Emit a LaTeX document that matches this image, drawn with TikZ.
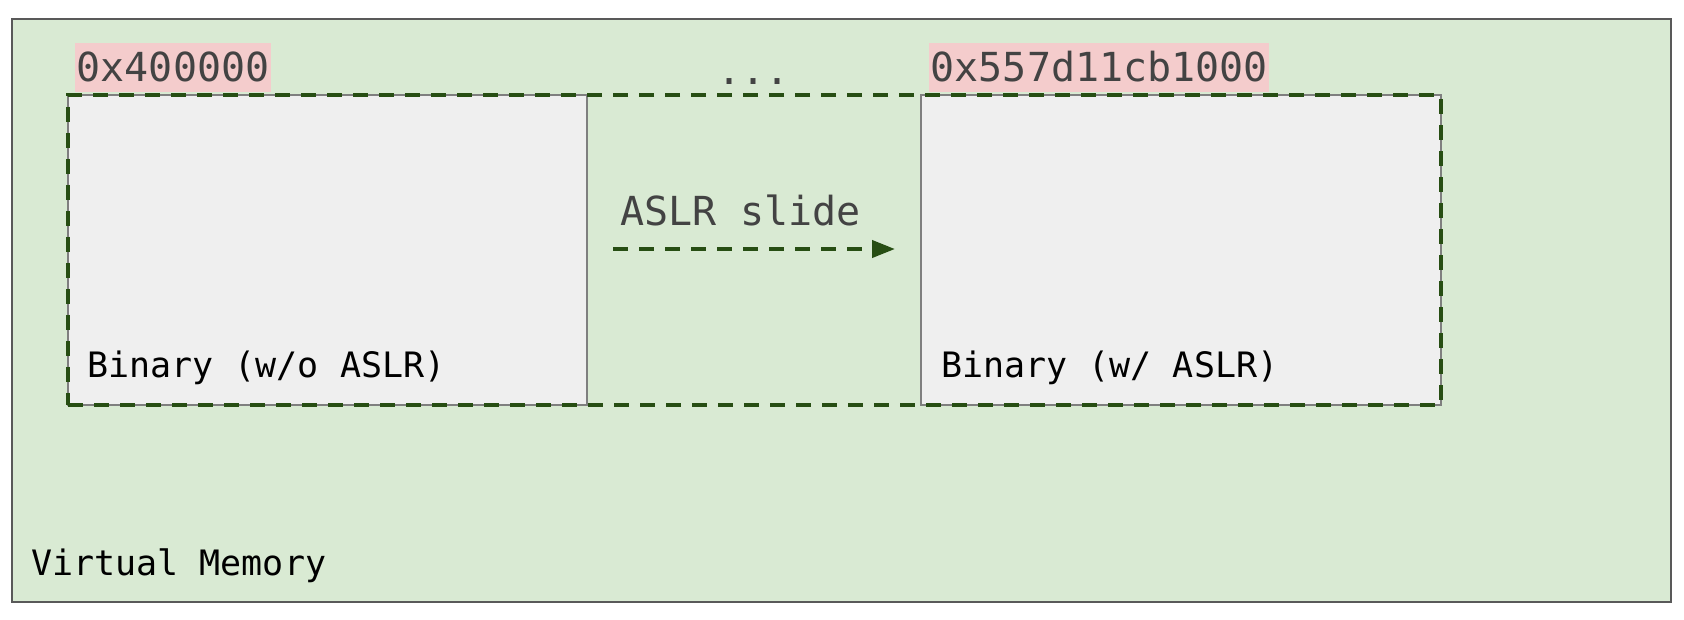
\documentclass[tikz,border=0pt]{standalone}
\usepackage{fontspec}
\setmonofont{DejaVu Sans Mono}
\usetikzlibrary{arrows.meta}
\definecolor{vmfill}{HTML}{D9EAD3}
\definecolor{vmdraw}{HTML}{595959}
\definecolor{boxfill}{HTML}{EFEFEF}
\definecolor{boxdraw}{HTML}{7F7F7F}
\definecolor{dgreen}{HTML}{274E13}
\definecolor{pinkbg}{HTML}{F4CCCC}
\definecolor{txtgray}{HTML}{434343}
\tikzset{
  region/.style={rectangle, anchor=north west, inner sep=0pt, outer sep=0pt},
  binbox/.style={region, fill=boxfill, draw=boxdraw, line width=2pt},
  greendash/.style={draw=dgreen, line width=4pt, dash pattern=on 15pt off 11pt},
  addr/.style={anchor=south west, fill=pinkbg, text=txtgray, inner xsep=1.5pt, inner ysep=9pt,
     text height=30pt, text depth=1pt, font=\ttfamily\fontsize{40}{44}\selectfont},
  biglbl/.style={anchor=base west, inner sep=0pt, text=txtgray, font=\ttfamily\fontsize{40}{44}\selectfont},
  lbl/.style={anchor=base west, inner sep=0pt, text=black, font=\ttfamily\fontsize{35}{40}\selectfont},
}
\begin{document}
\begin{tikzpicture}[x=1pt,y=-1pt]
\useasboundingbox (0,0) rectangle (1684,619);
% outer virtual memory area
\node[region, fill=vmfill, draw=vmdraw, line width=2pt, minimum width=1659pt, minimum height=583pt] (vm) at (12,19) {};
% binaries
\node[binbox, minimum width=519pt, minimum height=310pt] (bin) at (68,94.5) {};
\node[binbox, minimum width=520pt, minimum height=310pt] (binaslr) at (921,94.5) {};
% dashed span
\node[region, greendash, minimum width=1373pt, minimum height=310pt] (span) at (68,94.5) {};
% address labels
\node[addr] (a1) at (75,92) {0x400000};
\node[addr] (a2) at (929,92) {0x557d11cb1000};
\node[biglbl] (dots) at (717,84) {...};
% ASLR slide
\node[biglbl] (slide) at (620,225) {ASLR slide};
\coordinate (sA) at (613,249);
\coordinate (sB) at (895,249);
\draw[greendash, -{Triangle[length=23pt,width=17pt]}] (sA) -- (sB);
% labels
\node[lbl] (l1) at (87,377) {Binary (w/o ASLR)};
\node[lbl] (l2) at (941,377) {Binary (w/ ASLR)};
\node[lbl] (l3) at (31,575) {Virtual Memory};
\end{tikzpicture}
\end{document}
